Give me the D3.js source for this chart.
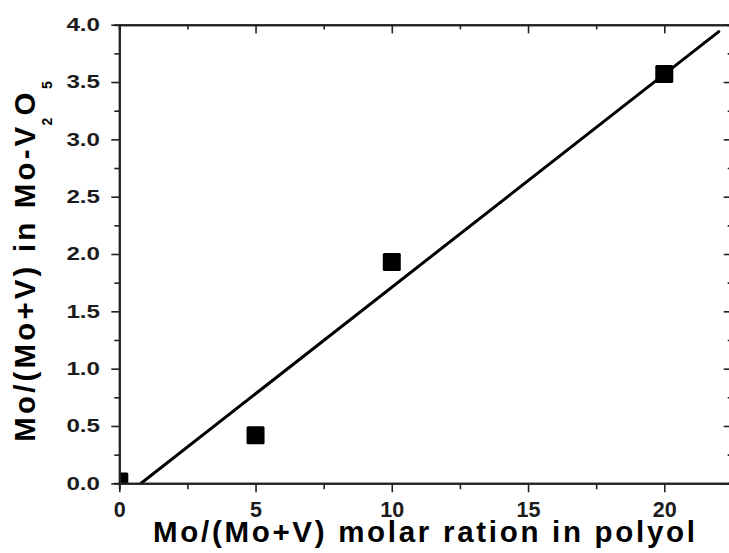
<!DOCTYPE html>
<html>
<head>
<meta charset="utf-8">
<script src="https://cdn.jsdelivr.net/npm/d3@7"></script>
<style>
  html, body { margin: 0; padding: 0; background: #fff; }
  svg { display: block; }
</style>
</head>
<body>
<svg id="chart" width="729" height="553"></svg>
<script>
// measured points: Mo/(Mo+V) in polyol vs. in the oxide
const polyolRatio = [0, 5, 10, 20];
const oxideRatio = [0.015, 0.42, 1.93, 3.57];

const fitX = [0.8, 22];
const fitY = [0, 3.94];

const xTicks = [0, 5, 10, 15, 20];
const xMinorTicks = [2.5, 7.5, 12.5, 17.5];
const yTicks = [0, 0.5, 1, 1.5, 2, 2.5, 3, 3.5, 4];
const yMinorTicks = [0.25, 0.75, 1.25, 1.75, 2.25, 2.75, 3.25, 3.75];

const svg = d3.select("#chart");
const width = +svg.attr("width");
const height = +svg.attr("height");
// right edge of the frame sits just outside the picture
const margin = { top: 24.7, right: -3.4, bottom: 69.7, left: 119.3 };
const innerWidth = width - margin.left - margin.right;
const innerHeight = height - margin.top - margin.bottom;

const font = "'Liberation Sans', Arial, sans-serif";
const ink = "#1c1c1c";

const xScale = d3.scaleLinear().domain([0, 22.5]).range([0, innerWidth]);
const yScale = d3.scaleLinear().domain([0, 4]).range([innerHeight, 0]);

const g = svg.append("g")
    .attr("transform", `translate(${margin.left},${margin.top})`);

svg.append("defs").append("clipPath")
    .attr("id", "plot-clip")
    .append("rect")
    .attr("width", innerWidth)
    .attr("height", innerHeight);

const plot = g.append("g").attr("clip-path", "url(#plot-clip)");

// fit line
const lineData = fitX.map((x, i) => ({ x: x, y: fitY[i] }));
plot.append("path")
    .attr("d", d3.line().x(d => xScale(d.x)).y(d => yScale(d.y))(lineData))
    .attr("fill", "none")
    .attr("stroke", "#000")
    .attr("stroke-width", 3)
    .attr("stroke-linecap", "round");

// square markers
const pts = polyolRatio.map((x, i) => ({ x: x, y: oxideRatio[i] }));
const side = 18;
plot.selectAll(".pt")
    .data(pts)
    .join("rect")
    .attr("class", "pt")
    .attr("x", d => xScale(d.x) - side / 2)
    .attr("y", d => yScale(d.y) - side / 2)
    .attr("width", side)
    .attr("height", side)
    .attr("rx", 1.5)
    .attr("fill", "#000");

// axes: major + minor, outward on left/bottom, inward on top/right
const yMajor = g.append("g")
    .call(d3.axisLeft(yScale).tickValues(yTicks).tickSize(8).tickSizeOuter(0)
        .tickFormat(d3.format(".1f")))
    .attr("font-family", font)
    .attr("font-size", 18.6)
    .attr("font-weight", "bold");
g.append("g")
    .call(d3.axisLeft(yScale).tickValues(yMinorTicks).tickSize(5).tickFormat(""));

const xMajor = g.append("g")
    .attr("transform", `translate(0,${innerHeight})`)
    .call(d3.axisBottom(xScale).tickValues(xTicks).tickSize(9).tickSizeOuter(0)
        .tickFormat(d3.format("d")))
    .attr("font-family", font)
    .attr("font-size", 21.5)
    .attr("font-weight", "bold");
g.append("g")
    .attr("transform", `translate(0,${innerHeight})`)
    .call(d3.axisBottom(xScale).tickValues(xMinorTicks).tickSize(6).tickFormat(""));

g.append("g")
    .call(d3.axisTop(xScale).tickValues(xTicks).tickSize(-8.7).tickSizeOuter(0).tickFormat(""));
g.append("g")
    .call(d3.axisTop(xScale).tickValues(xMinorTicks).tickSize(-4.7).tickFormat(""));

g.append("g")
    .attr("transform", `translate(${innerWidth},0)`)
    .call(d3.axisRight(yScale).tickValues(yTicks).tickSize(-8.7).tickSizeOuter(0).tickFormat(""));
g.append("g")
    .attr("transform", `translate(${innerWidth},0)`)
    .call(d3.axisRight(yScale).tickValues(yMinorTicks).tickSize(-4.7).tickFormat(""));

g.selectAll(".domain")
    .style("stroke", "#222")
    .style("stroke-width", 2);
g.selectAll(".tick line")
    .style("stroke", "#222")
    .style("stroke-width", 1.6);

// y labels are drawn wide in the original: stretch them sideways
const yStretch = 1.3;
yMajor.selectAll(".tick text")
    .attr("x", -19.3 / yStretch)
    .attr("transform", `scale(${yStretch},1)`)
    .attr("fill", ink);

xMajor.selectAll(".tick text")
    .attr("y", 34)
    .attr("dy", null)
    .attr("fill", ink);

// x axis title
svg.append("text")
    .attr("x", 153)
    .attr("y", 542.3)
    .attr("textLength", 542)
    .attr("lengthAdjust", "spacing")
    .attr("font-family", font)
    .attr("font-weight", "bold")
    .attr("font-size", 29.5)
    .attr("fill", "#000")
    .text("Mo/(Mo+V) molar ration in polyol");

// y axis title with subscripts (rotated frame: x runs bottom -> top)
const yTitle = svg.append("text")
    .attr("transform", "translate(35,0) rotate(-90)")
    .attr("font-family", font)
    .attr("font-weight", "bold")
    .attr("font-size", 29.5)
    .attr("fill", "#000");

yTitle.append("tspan")
    .attr("x", -441.7)
    .attr("y", 0)
    .attr("textLength", 315)
    .attr("lengthAdjust", "spacing")
    .text("Mo/(Mo+V) in Mo-V");
yTitle.append("tspan")
    .attr("x", -125.5)
    .attr("y", 16.5)
    .attr("font-size", 14)
    .text("2");
yTitle.append("tspan")
    .attr("x", -115.5)
    .attr("y", 0)
    .text("O");
yTitle.append("tspan")
    .attr("x", -89)
    .attr("y", 16.5)
    .attr("font-size", 14)
    .text("5");
</script>
</body>
</html>
